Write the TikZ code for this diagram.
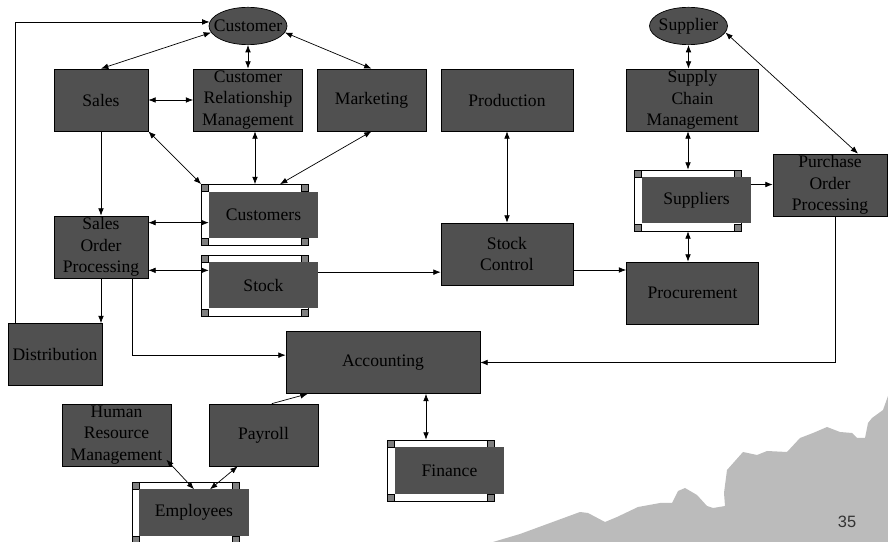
\documentclass[tikz,border=0pt]{standalone}
\usepackage{fontspec}
\setmainfont{Liberation Serif}
\newfontfamily\pagenumfont{Liberation Sans}
\usetikzlibrary{arrows.meta,positioning,shapes.geometric,calc}
\definecolor{boxgray}{HTML}{505050}
\definecolor{cornergray}{HTML}{7F7F7F}
\definecolor{hill}{HTML}{BBBBBB}

% data store: name, x, y (frame centre), text
\newcommand{\datastore}[4]{%
  \node[storeframe] (#1-f) at (#2,#3) {};
  \foreach \cx/\cy in {-50/-27,50/-27,-50/27,50/27}
    \node[storecorner] at ($(#2,#3)+(\cx,\cy)$) {};
  \node[storebox] (#1) at ($(#2,#3)+(8.5,0)$) {#4};
}

\begin{document}
\begin{tikzpicture}[x=0.03cm,y=-0.03cm,
    >={Latex[length=2.2mm,width=1.7mm]},
    every node/.style={font=\fontsize{15}{18.3}\selectfont},
    procbox/.style={draw=black,fill=boxgray,line width=0.6pt,minimum height=1.86cm,
      align=center,inner sep=1pt},
    narrowbox/.style={procbox,minimum width=2.82cm},
    midbox/.style={procbox,minimum width=3.27cm},
    widebox/.style={procbox,minimum width=3.96cm},
    party/.style={ellipse,draw=black,fill=boxgray,line width=0.6pt,inner sep=0pt,
      minimum width=2.34cm,minimum height=1.12cm},
    storeframe/.style={draw=black,fill=white,line width=0.6pt,inner sep=0pt,
      minimum width=3.21cm,minimum height=1.83cm},
    storecorner/.style={draw=black,fill=cornergray,line width=0.4pt,inner sep=0pt,
      minimum size=0.21cm},
    storebox/.style={fill=boxgray,inner sep=1pt,minimum width=3.27cm,minimum height=1.38cm},
    link/.style={line width=0.6pt}]
  \useasboundingbox (0,0) rectangle (888,542);

  % hills in the corner
  \fill[hill] (493,542) -- (520,534) -- (550,523) -- (580,512) -- (588,513) -- (605,522)
    -- (617,517) -- (638,507) -- (660,503) -- (672,503) -- (678,491) -- (685,488)
    -- (697,495) -- (707,506) -- (713,508) -- (725,506) -- (724,493) -- (727,470)
    -- (743,452) -- (757,455) -- (767,451) -- (787,452) -- (800,438) -- (813,433)
    -- (827,427) -- (840,432) -- (852,433) -- (857,438) -- (865,438) -- (868,423)
    -- (872,418) -- (883,410) -- (888,396) -- (888,542) -- cycle;
  \node[font=\pagenumfont\fontsize{14}{16}\selectfont,text=black!80] (pagenum) at (847,522) {35};

  \node[party] (customer) at (248,26) {\makebox[0pt]{Customer}};
  \node[party] (supplier) at (688.5,26) {\makebox[0pt]{Supplier}};

  \node[narrowbox] (sales) at (101,100) {Sales};
  \node[midbox] (crm) at (248,100) {Customer\\Relationship\\Management};
  \node[midbox] (mkt) at (371.5,100) {Marketing};
  \node[widebox] (prod) at (507,100) {Production};
  \node[widebox] (scm) at (692.5,100) {Supply\\Chain\\Management};
  \node[procbox,minimum width=3.42cm] (pop) at (830,185) {Purchase\\Order\\Processing};
  \node[narrowbox] (sop) at (101,247) {Sales\\Order\\Processing};
  \node[widebox] (stockctl) at (507,254) {Stock\\Control};
  \node[widebox] (procure) at (692.5,293) {Procurement};
  \node[narrowbox] (dist) at (55,354.5) {Distribution};
  \node[procbox,minimum width=5.82cm] (acct) at (383,362.5) {Accounting};
  \node[midbox] (hrm) at (116.5,435) {Human\\Resource\\Management};
  \node[midbox] (payroll) at (263.5,435) {Payroll};

  \datastore{customers}{255}{215}{Customers}
  \datastore{stock}{255}{285.5}{Stock}
  \datastore{suppliers}{688}{200.5}{Suppliers}
  \datastore{finance}{441}{470.5}{Finance}
  \datastore{employees}{185.5}{512.5}{Employees}

  \coordinate (sopA) at ([yshift=-0.21cm]sop.north east);
  \coordinate (sopB) at ([yshift=0.24cm]sop.south east);
  \coordinate (stockA) at ([yshift=0.4cm]stock.east);
  \coordinate (ctlA) at ([yshift=-0.48cm]stockctl.east);
  \coordinate (supA) at ([yshift=0.48cm]suppliers.east);
  \coordinate (finA) at ([xshift=-0.45cm]finance-f.north);

  \draw[link,<->] (customer.190) -- (sales.north);
  \draw[link,->] ([xshift=0.24cm]dist.north west) |- (customer.174);
  \draw[link,<->] (customer.south) -- (crm.north);
  \draw[link,<->] (customer.350) -- (mkt.north);
  \draw[link,<->] (sales.east) -- (crm.west);
  \draw[link,<->] (sales.south east) -- (customers-f.north west);
  \draw[link,<->] (customers-f.north |- crm.south) -- (customers-f.north);
  \draw[link,<->] (mkt.south) -- ([xshift=0.75cm]customers-f.north);
  \draw[link,->] (sales.south) -- (sop.north);
  \draw[link,<->] (sopA) -- (sopA -| customers.west);
  \draw[link,<->] (sopB) -- (sopB -| stock.west);
  \draw[link,->] (sop.south) -- (sop.south |- dist.north);
  \draw[link,->] ([xshift=-0.48cm]sop.south east) |- ([yshift=0.22cm]acct.west);
  \draw[link,->] (stockA) -- (stockA -| stockctl.west);
  \draw[link,<->] (prod.south) -- (stockctl.north);
  \draw[link,->] (ctlA) -- (ctlA -| procure.west);
  \draw[link,<->] (supplier.south) -- (supplier.south |- scm.north);
  \draw[link,<->] (supplier.350) -- ([xshift=0.84cm]pop.north);
  \draw[link,<->] (suppliers-f.north |- scm.south) -- (suppliers-f.north);
  \draw[link,->] (supA) -- (supA -| pop.west);
  \draw[link,<->] (suppliers-f.south) -- (suppliers-f.south |- procure.north);
  \draw[link,->] ([xshift=0.15cm]pop.south) |- (acct.east);
  \draw[link,<->] (finA |- acct.south) -- (finA);
  \draw[link,->] ([xshift=0.25cm]payroll.north) -- ([xshift=0.66cm]acct.south west);
  \draw[link,<->] ([xshift=-0.15cm,yshift=0.2cm]hrm.south east) -- (employees.north);
  \draw[link,<->] ([xshift=0.87cm]payroll.south west) -- ([xshift=0.48cm]employees.north);
\end{tikzpicture}
\end{document}
